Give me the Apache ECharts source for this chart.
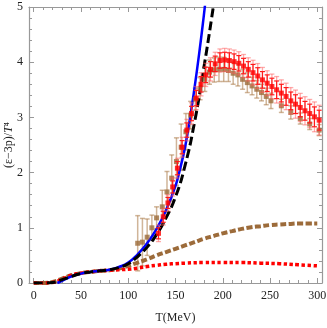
<!DOCTYPE html>
<html>
<head>
<meta charset="utf-8">
<script src="https://cdn.jsdelivr.net/npm/echarts@6/dist/echarts.min.js"></script>
<style>
  html, body { margin: 0; padding: 0; background: #fff; }
  #main { width: 327px; height: 328px; }
</style>
</head>
<body>
<div id="main"></div>
<script>
// lattice points (brown, HotQCD-like)
var hotT = [110,115,120,125,130,136,141,146,151,156,161,166,171,176,181,186,191,196,201,206,211,216,221,226,231,236,241,246,251,262,272,282,292,302];
var hotV = [0.72,0.74,0.83,1.0,1.18,1.38,1.65,1.9,2.2,2.46,2.74,3.04,3.33,3.52,3.69,3.82,3.86,3.87,3.87,3.85,3.80,3.77,3.69,3.63,3.57,3.51,3.45,3.38,3.30,3.21,3.09,2.98,2.88,2.77];
var hotErr = [0.5,0.43,0.33,0.23,0.2,0.3,0.37,0.42,0.43,0.42,0.33,0.25,0.2,0.2,0.22,0.22,0.22,0.22,0.22,0.2,0.2,0.2,0.18,0.18,0.16,0.16,0.15,0.15,0.14,0.12,0.12,0.1,0.1,0.1];

// lattice points (red)
var wbT = [132,137,142,147,152,157,162,167,172,177,182,187,192,197,202,207,212,217,222,227,232,237,242,247,252,257,262,267,272,277,282,287,292,297,302];
var wbV = [0.9,1.2,1.45,1.74,2.08,2.46,2.77,3.07,3.35,3.6,3.77,3.87,3.97,4.03,4.04,4.03,4.01,3.98,3.93,3.87,3.81,3.75,3.68,3.62,3.56,3.5,3.44,3.38,3.3,3.24,3.18,3.12,3.07,3.01,2.95];
var wbErr = [0.1,0.1,0.1,0.11,0.12,0.12,0.13,0.13,0.14,0.14,0.14,0.14,0.14,0.14,0.14,0.14,0.14,0.14,0.14,0.14,0.15,0.15,0.15,0.15,0.15,0.16,0.16,0.16,0.16,0.17,0.17,0.17,0.17,0.18,0.18];

// model curves
var blueT = [25,30,40,50,60,70,80,90,100,110,120,130,140,150,155,160,165,170,175,180,185];
var blueV = [0,0.04,0.12,0.17,0.2,0.22,0.24,0.29,0.37,0.52,0.72,0.98,1.32,1.76,2.08,2.45,2.95,3.52,4.15,4.85,5.6];
var blackT = [0,10,20,30,40,50,60,70,80,90,100,110,120,130,140,150,160,170,180,190,195];
var blackV = [0,0,0.01,0.06,0.12,0.17,0.2,0.22,0.24,0.28,0.35,0.48,0.65,0.88,1.18,1.56,2.12,2.9,3.9,5.0,5.6];
var redT = [0,10,20,30,40,50,60,70,80,90,100,110,120,130,140,150,160,180,200,220,240,260,280,300];
var redV = [0,0,0.01,0.07,0.14,0.18,0.2,0.22,0.23,0.24,0.25,0.27,0.3,0.32,0.34,0.35,0.36,0.37,0.37,0.37,0.36,0.35,0.33,0.31];
var brT = [0,10,20,30,40,50,60,70,80,90,100,110,120,130,140,150,160,170,180,190,200,210,220,230,240,250,260,270,280,290,300];
var brV = [0,0,0.02,0.08,0.14,0.18,0.2,0.22,0.23,0.26,0.31,0.37,0.43,0.5,0.56,0.62,0.68,0.74,0.8,0.85,0.9,0.94,0.98,1.01,1.03,1.05,1.06,1.07,1.08,1.08,1.08];

var majorX = [0,50,100,150,200,250,300];
var minorX = [10,20,30,40,60,70,80,90,110,120,130,140,160,170,180,190,210,220,230,240,260,270,280,290];

function pairs(xs, ys) {
  return xs.map(function (x, i) { return [x, ys[i]]; });
}
function bars(xs, ys, es, k) {
  return xs.map(function (x, i) { return [x, ys[i] - es[i] * k, ys[i] + es[i] * k]; });
}

function errBars(color, capW, lw) {
  return function (params, api) {
    var x = api.value(0);
    var a = api.coord([x, api.value(1)]);
    var b = api.coord([x, api.value(2)]);
    var st = { stroke: color, lineWidth: lw };
    return {
      type: 'group',
      children: [
        { type: 'line', shape: { x1: a[0], y1: a[1], x2: b[0], y2: b[1] }, style: st },
        { type: 'line', shape: { x1: a[0] - capW, y1: a[1], x2: a[0] + capW, y2: a[1] }, style: st },
        { type: 'line', shape: { x1: b[0] - capW, y1: b[1], x2: b[0] + capW, y2: b[1] }, style: st }
      ]
    };
  };
}

var axisCol = '#999';
var font = 'Liberation Serif';

function xAx(pos, vals, len, line, label) {
  return {
    type: 'value', min: -5, max: 305, position: pos,
    axisLine: { show: line, onZero: false, lineStyle: { color: axisCol, width: 1.2 } },
    axisTick: { show: true, inside: true, length: len, customValues: vals, lineStyle: { color: axisCol } },
    axisLabel: { show: label, customValues: majorX, color: '#222', fontFamily: font, fontSize: 12, margin: 7 },
    splitLine: { show: false },
    name: label ? 'T(MeV)' : '',
    nameLocation: 'middle', nameGap: 29, nameMoveOverlap: false,
    nameTextStyle: { color: '#222', fontFamily: font, fontSize: 12 }
  };
}
function yAx(pos, label) {
  return {
    type: 'value', min: 0, max: 5, interval: 1, position: pos,
    axisLine: { show: true, onZero: false, lineStyle: { color: axisCol, width: 1.2 } },
    axisTick: { show: true, inside: true, length: 5, lineStyle: { color: axisCol } },
    minorTick: { show: true, splitNumber: 5, length: 3, lineStyle: { color: axisCol } },
    axisLabel: { show: label, color: '#222', fontFamily: font, fontSize: 12, margin: 6 },
    splitLine: { show: false },
    name: label ? '(ε−3p)/{i|T}⁴' : '',
    nameLocation: 'middle', nameGap: 14, nameMoveOverlap: false,
    nameTextStyle: { color: '#222', fontFamily: font, fontSize: 12, rich: { i: { fontStyle: 'italic', fontFamily: font, fontSize: 12 } } }
  };
}

var chart = echarts.init(document.getElementById('main'));
chart.setOption({
  animation: false,
  grid: { left: 29, right: 5, top: 7, bottom: 45, containLabel: false, outerBoundsMode: 'none' },
  xAxis: [
    xAx('bottom', majorX, 5, true, true),
    xAx('bottom', minorX, 3, false, false),
    xAx('top', majorX, 5, true, false),
    xAx('top', minorX, 3, false, false)
  ],
  yAxis: [yAx('left', true), yAx('right', false)],
  series: [
    { type: 'line', data: pairs(brT, brV), smooth: true, showSymbol: false,
      lineStyle: { color: '#9c6b3a', width: 4, type: [6, 2.5] } },
    { type: 'line', data: pairs(redT, redV), smooth: true, showSymbol: false,
      lineStyle: { color: '#ff0000', width: 3.5, type: [3.5, 2.5] } },
    { type: 'line', data: pairs(blueT, blueV), smooth: true, showSymbol: false,
      lineStyle: { color: '#0000ff', width: 2.5 } },
    { type: 'line', data: pairs(blackT, blackV), smooth: true, showSymbol: false,
      lineStyle: { color: '#000', width: 3, type: [9, 4] } },
    { type: 'custom', data: bars(hotT, hotV, hotErr, 1), renderItem: errBars('rgba(170,120,70,0.55)', 2.5, 1.5),
      encode: { x: 0, y: [1, 2] }, z: 3 },
    { type: 'scatter', data: pairs(hotT, hotV), symbol: 'rect', symbolSize: 5,
      itemStyle: { color: '#9c6b3a' }, z: 4 },
    { type: 'custom', data: bars(wbT, wbV, wbErr, 1.5), renderItem: errBars('rgba(255,90,90,0.5)', 2.5, 1.3),
      encode: { x: 0, y: [1, 2] }, z: 5 },
    { type: 'custom', data: bars(wbT, wbV, wbErr, 1), renderItem: errBars('#ff1a1a', 2.5, 1.2),
      encode: { x: 0, y: [1, 2] }, z: 5 },
    { type: 'scatter', data: pairs(wbT, wbV), symbol: 'rect', symbolSize: 5,
      itemStyle: { color: '#ff0000' }, z: 6 }
  ]
});
</script>
</body>
</html>
